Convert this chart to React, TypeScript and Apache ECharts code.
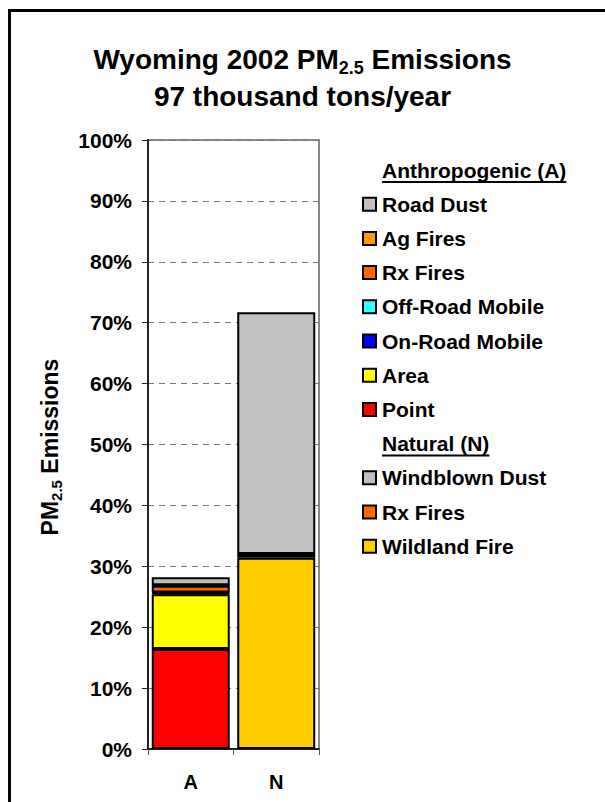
import React, { useEffect, useRef } from "react";
import * as echarts from "echarts";

const FONT = '"Liberation Sans", Arial, sans-serif';

const categories = ["A", "N"];
const yTicks = [0, 10, 20, 30, 40, 50, 60, 70, 80, 90, 100];

// Anthropogenic (A) stack, bottom to top
const anthroNames = ["Point", "Area", "On-Road Mobile", "Off-Road Mobile", "Rx Fires", "Ag Fires", "Road Dust"];
const anthroValues = [16.4, 9.0, 0.2, 0.1, 1.1, 0.1, 1.3];
const anthroColors = ["#FF0000", "#FFFF00", "#0000FF", "#33FFFF", "#FF6600", "#FF9900", "#C0C0C0"];

// Natural (N) stack, bottom to top
const naturalNames = ["Wildland Fire", "Rx Fires", "Windblown Dust"];
const naturalValues = [31.4, 0.6, 39.7];
const naturalColors = ["#FFCC00", "#FF6600", "#C0C0C0"];

const titleLine1 = ["Wyoming 2002 PM", "2.5", " Emissions"];
const titleLine2 = "97 thousand tons/year";
const yName = ["PM", "2.5", " Emissions"];
const headerA = "Anthropogenic (A)";
const headerN = "Natural (N)";

export default function App() {
  const ref = useRef<HTMLDivElement>(null);
  useEffect(() => {
    if (!ref.current) return;
    const chart = echarts.init(ref.current, null, { renderer: "svg" });
    const LFS = 21;
    const canvas = document.createElement("canvas");
    const ctx = canvas.getContext("2d")!;
    ctx.font = `bold ${LFS}px "Liberation Sans"`;
    const measure = (s: string) => ctx.measureText(s).width;

    const series: any[] = [];
    anthroNames.forEach((n, i) => {
      series.push({
        name: "A-" + n,
        type: "bar",
        stack: "total",
        barWidth: 78,
        data: [anthroValues[i], "-"],
        itemStyle: { color: anthroColors[i], borderColor: "#000", borderWidth: 2 },
      });
    });
    naturalNames.forEach((n, i) => {
      series.push({
        name: "N-" + n,
        type: "bar",
        stack: "total",
        barWidth: 78,
        data: ["-", naturalValues[i]],
        itemStyle: { color: naturalColors[i], borderColor: "#000", borderWidth: 2 },
      });
    });

    // legend graphics
    const graphics: any[] = [];
    const lx = 362;
    const tx = 382;
    let y = 170;
    const step = 34.2;
    const header = (txt: string, yy: number) => {
      graphics.push({
        type: "text",
        x: tx,
        y: yy,
        style: { text: txt, font: `bold ${LFS}px ${FONT}`, fill: "#000", verticalAlign: "middle" },
      });
      graphics.push({
        type: "line",
        shape: { x1: tx, y1: yy + 12, x2: tx + measure(txt), y2: yy + 12 },
        style: { stroke: "#000", lineWidth: 2 },
      });
    };
    const item = (txt: string, color: string, yy: number) => {
      graphics.push({
        type: "rect",
        shape: { x: lx + 1, y: yy - 6.5, width: 13, height: 13 },
        style: { fill: color, stroke: "#000", lineWidth: 2 },
      });
      graphics.push({
        type: "text",
        x: tx,
        y: yy,
        style: { text: txt, font: `bold ${LFS}px ${FONT}`, fill: "#000", verticalAlign: "middle" },
      });
    };
    header(headerA, y);
    for (let i = anthroNames.length - 1; i >= 0; i--) {
      y += step;
      item(anthroNames[i], anthroColors[i], y);
    }
    y += step;
    header(headerN, y);
    for (let i = naturalNames.length - 1; i >= 0; i--) {
      y += step;
      item(naturalNames[i], naturalColors[i], y);
    }

    // outer frame
    graphics.push({
      type: "rect",
      shape: { x: 9.5, y: 10.5, width: 700, height: 900 },
      style: { fill: "none", stroke: "#000", lineWidth: 3 },
      z: -1,
    });

    // y axis name
    graphics.push({
      type: "text",
      x: 50,
      y: 447,
      rotation: Math.PI / 2,
      style: {
        text: `{t|${yName[0]}}{s|${yName[1]}}{t|${yName[2]}}`,
        align: "center",
        verticalAlign: "middle",
        rich: {
          t: { font: `bold 23px ${FONT}`, fill: "#000", lineHeight: 30 },
          s: { font: `bold 15px ${FONT}`, fill: "#000", verticalAlign: "bottom", padding: [0, 0, 1, 0] },
        },
      },
    });

    chart.setOption({
      animation: false,
      title: {
        left: "center",
        top: 36,
        text: `{t|${titleLine1[0]}}{s|${titleLine1[1]}}{t|${titleLine1[2]}}\n{t|${titleLine2}}`,
        textStyle: {
          rich: {
            t: { fontFamily: FONT, fontWeight: "bold", fontSize: 28, color: "#000", lineHeight: 37 },
            s: { fontFamily: FONT, fontWeight: "bold", fontSize: 18, color: "#000", verticalAlign: "bottom", padding: [0, 0, 1, 0] },
          },
        },
      },
      grid: {
        left: 148,
        right: 286,
        top: 140,
        bottom: 53,
        show: true,
        borderColor: "#888",
        borderWidth: 2,
        backgroundColor: "transparent",
      },
      xAxis: {
        type: "category",
        data: categories,
        axisLine: { lineStyle: { color: "#000", width: 1.5 } },
        axisTick: { show: true, length: 6, lineStyle: { color: "#555" } },
        axisLabel: { fontFamily: FONT, fontWeight: "bold", fontSize: 20, color: "#000", margin: 23 },
      },
      yAxis: {
        type: "value",
        min: yTicks[0],
        max: yTicks[yTicks.length - 1],
        interval: 10,
        axisLine: { show: true, lineStyle: { color: "#222", width: 2 } },
        axisTick: { show: true, length: 6, lineStyle: { color: "#222" } },
        axisLabel: {
          formatter: "{value}%",
          fontFamily: FONT,
          fontWeight: "bold",
          fontSize: 21,
          color: "#000",
          margin: 16,
        },
        splitLine: { show: true, lineStyle: { color: "#777", type: [6, 5], width: 1 } },
      },
      series,
      graphic: graphics,
    });
    return () => chart.dispose();
  }, []);
  return <div ref={ref} style={{ position: "absolute", left: 0, top: 0, width: 605, height: 802 }} />;
}
